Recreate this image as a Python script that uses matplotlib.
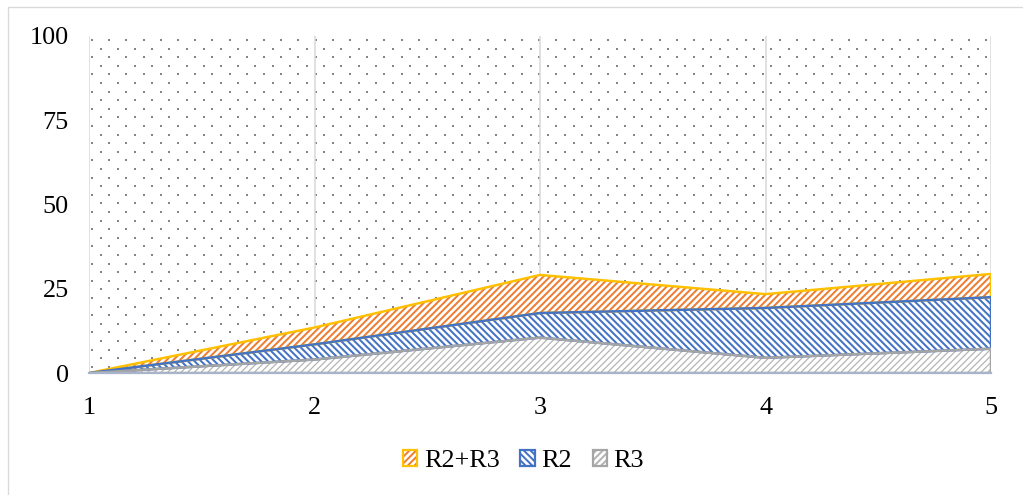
import numpy as np
import matplotlib
matplotlib.use("Agg")
import matplotlib.pyplot as plt
from matplotlib.patches import Patch, Rectangle
from matplotlib.legend_handler import HandlerTuple

# stacked series, bottom to top
x_vals = [1, 2, 3, 4, 5]
r3 = [0, 4.0, 10.5, 4.5, 7.2]
r2 = [0, 4.5, 7.3, 14.8, 15.3]
r2_r3 = [0, 5.0, 11.3, 4.1, 6.9]
y_ticks = [0, 25, 50, 75, 100]
legend_labels = ["R2+R3", "R2", "R3"]

orange = "#ED7D31"
gold = "#FFC000"
blue = "#4472C4"
grey = "#A5A5A5"
grey_hatch = "#B3B3B3"

W, H, DPI = 1023, 495, 80
plt.rcParams["font.family"] = ["Liberation Serif", "DejaVu Serif"]
plt.rcParams["font.size"] = 23.5

fig = plt.figure(figsize=(W / DPI, H / DPI), dpi=DPI)
left, right, bottom, top = 89 / W, 991 / W, 1 - 373 / H, 1 - 36 / H
ax = fig.add_axes([left, bottom, right - left, top - bottom])


def hatch_lw(artist, lw):
    if hasattr(artist, "set_hatch_linewidth"):
        artist.set_hatch_linewidth(lw)


# dotted background of the plot area
w_px = (right - left) * W
h_px = (top - bottom) * H
dots_x, dots_y = [], []
for i, py in enumerate(np.arange(4, h_px, 8.6)):
    off = 3 if i % 2 == 0 else 11.6
    for px in np.arange(off, w_px, 17.2):
        dots_x.append(px / w_px)
        dots_y.append(1 - py / h_px)
ax.scatter(dots_x, dots_y, s=2.8, marker="s", color="#858585", linewidths=0,
           transform=ax.transAxes, zorder=0.5)

base = np.zeros(len(x_vals))
lvl1 = base + np.array(r3)
lvl2 = lvl1 + np.array(r2)
lvl3 = lvl2 + np.array(r2_r3)

plt.rcParams["hatch.linewidth"] = 1.1
f3 = ax.fill_between(x_vals, base, lvl1, facecolor="white", edgecolor=grey_hatch,
                     hatch="////", linewidth=0, zorder=2)
hatch_lw(f3, 1.1)
plt.rcParams["hatch.linewidth"] = 1.8
f2 = ax.fill_between(x_vals, lvl1, lvl2, facecolor="white", edgecolor=blue,
                     hatch="\\\\\\\\", linewidth=0, zorder=2)
hatch_lw(f2, 1.8)
f1 = ax.fill_between(x_vals, lvl2, lvl3, facecolor="white", edgecolor=orange,
                     hatch="////", linewidth=0, zorder=2)
hatch_lw(f1, 1.8)

# series outlines
ax.fill_between(x_vals, lvl2, lvl3, facecolor="none", edgecolor=gold, linewidth=2.2, zorder=3)
ax.fill_between(x_vals, lvl1, lvl2, facecolor="none", edgecolor=blue, linewidth=2.2, zorder=3.1)
ax.fill_between(x_vals, base, lvl1, facecolor="none", edgecolor=grey, linewidth=2.2, zorder=3.2)

ax.set_xlim(1, 5)
ax.set_ylim(0, 100)
ax.set_xticks(x_vals)
ax.set_yticks(y_ticks)
ax.tick_params(axis="both", length=0)
ax.tick_params(axis="x", pad=22)
ax.tick_params(axis="y", pad=18)
ax.grid(axis="x", color="#D9D9D9", linewidth=1.4, zorder=1)
ax.set_axisbelow(True)
for s in ["top", "right", "left"]:
    ax.spines[s].set_visible(False)
ax.spines["bottom"].set_color("#A9B4CB")
ax.spines["bottom"].set_linewidth(2)
ax.spines["bottom"].set_zorder(4)

# legend swatches: hatch fill with a border drawn on top
h1 = (Patch(facecolor="white", edgecolor=orange, hatch="////", linewidth=0),
      Patch(facecolor="none", edgecolor=gold, linewidth=2.0))
h2 = (Patch(facecolor="white", edgecolor=blue, hatch="\\\\\\\\", linewidth=0),
      Patch(facecolor="none", edgecolor=blue, linewidth=2.0))
h3 = (Patch(facecolor="white", edgecolor=grey_hatch, hatch="////", linewidth=0),
      Patch(facecolor="none", edgecolor=grey, linewidth=2.0))
fig.legend([h1, h2, h3], legend_labels, handler_map={tuple: HandlerTuple(ndivide=1, pad=0)},
           loc="center", bbox_to_anchor=(523.5 / W, 1 - 461 / H), ncol=3, frameon=False,
           handlelength=0.55, handleheight=0.55, handletextpad=0.25, columnspacing=0.8)

# chart border
fig.add_artist(Rectangle((8 / W, -0.1), 1.2, 1 - 7 / H + 0.1, transform=fig.transFigure,
                         facecolor="none", edgecolor="#D9D9D9", linewidth=1.2))

fig.savefig("out.png", dpi=DPI)
